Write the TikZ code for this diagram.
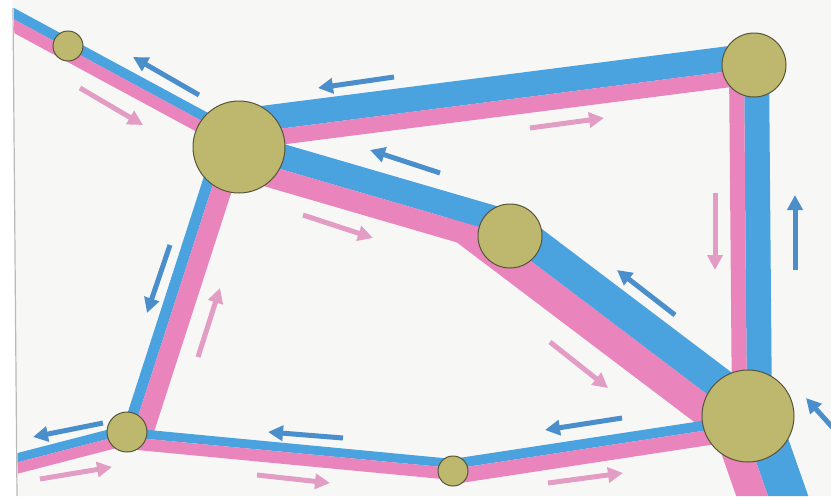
\documentclass[tikz,border=0pt]{standalone}
\usetikzlibrary{calc,arrows.meta}
\definecolor{bandblue}{HTML}{4AA2DF}
\definecolor{bandpink}{HTML}{E985BC}
\definecolor{arrblue}{HTML}{4A8FCB}
\definecolor{arrpink}{HTML}{E39CC3}
\definecolor{nodefill}{HTML}{BDB86E}
\definecolor{nodeedge}{HTML}{55553A}
\definecolor{paper}{HTML}{F7F8F6}
\pgfdeclarelayer{bg}
\pgfdeclarelayer{roads}
\pgfsetlayers{bg,roads,main}
% #1 from, #2 to, #3 blue width, #4 pink width (blue on the left of #1 -> #2)
\newcommand\roadband[4]{%
  \draw[bandblue, line width=#3pt] ($(#1)!0.5*#3pt!90:(#2)$) -- ($(#2)!0.5*#3pt!-90:(#1)$);
  \draw[bandpink, line width=#4pt] ($(#1)!0.5*#4pt!-90:(#2)$) -- ($(#2)!0.5*#4pt!90:(#1)$);
}
\begin{document}
\begin{tikzpicture}[x=1pt,y=-1pt,
  junction/.style={circle, draw=nodeedge, fill=nodefill, line width=1pt, inner sep=0pt},
  barrow/.style={draw=arrblue, line width=5pt, -{Triangle[length=15pt,width=15pt]}},
  parrow/.style={draw=arrpink, line width=5pt, -{Triangle[length=15pt,width=15pt]}}]
\useasboundingbox (0,0) rectangle (831,496);

% junctions
\node[junction, minimum size=30pt] (A) at (68,46) {};
\node[junction, minimum size=92pt] (B) at (239,147) {};
\node[junction, minimum size=64pt] (C) at (754,65) {};
\node[junction, minimum size=64pt] (D) at (510,236) {};
\node[junction, minimum size=92pt] (E) at (748,416) {};
\node[junction, minimum size=40pt] (F) at (127,432) {};
\node[junction, minimum size=30pt] (G) at (453,471) {};

% road boundary points
\coordinate (s1) at (-20,1);
\coordinate (b1) at ($(B)+(0,-6)$);
\coordinate (b2) at ($(B)+(0,-13)$);
\coordinate (c2) at ($(C)+(0,3)$);
\coordinate (c3) at ($(C)+(-10,0)$);
\coordinate (e3) at ($(E)+(-1,0)$);
\coordinate (b4) at ($(B)+(0,10)$);
\coordinate (d5) at ($(D)+(0,9)$);
\coordinate (e5) at ($(E)+(0,9)$);
\coordinate (d5x) at ($(d5)!-65pt!(e5)$);
\coordinate (e6) at ($(E)+(-8,0)$);
\coordinate (s6) at (782,536);
\coordinate (f7) at ($(F)+(6,0)$);
\coordinate (b7) at ($(B)+(-14,0)$);
\coordinate (s8) at (-20,472);
\coordinate (f8) at ($(F)+(0,2)$);
\coordinate (f9) at ($(F)+(0,5)$);
\coordinate (g9) at ($(G)+(0,-3)$);
\coordinate (g10) at ($(G)+(0,-2)$);
\coordinate (e10) at ($(E)+(0,8)$);

% arrow end points
\coordinate (a1t) at (199,95);  \coordinate (a1h) at (133,57);
\coordinate (a2t) at (80,88);   \coordinate (a2h) at (143,125);
\coordinate (a3t) at (394,77);  \coordinate (a3h) at (318,88);
\coordinate (a4t) at (530,128); \coordinate (a4h) at (604,118);
\coordinate (a5t) at (440,173); \coordinate (a5h) at (370,150);
\coordinate (a6t) at (303,215); \coordinate (a6h) at (373,238);
\coordinate (a7t) at (675,315); \coordinate (a7h) at (617,270);
\coordinate (a8t) at (550,342); \coordinate (a8h) at (608,388);
\coordinate (a9t) at (715,193); \coordinate (a9h) at (715,270);
\coordinate (a10t) at (795,270); \coordinate (a10h) at (795,195);
\coordinate (a11t) at (842,438); \coordinate (a11h) at (806,398);
\coordinate (a12t) at (170,245); \coordinate (a12h) at (147,313);
\coordinate (a13t) at (198,357); \coordinate (a13h) at (220,288);
\coordinate (a14t) at (103,423); \coordinate (a14h) at (33,437);
\coordinate (a15t) at (40,479);  \coordinate (a15h) at (112,467);
\coordinate (a16t) at (343,438); \coordinate (a16h) at (268,432);
\coordinate (a17t) at (257,475); \coordinate (a17h) at (330,483);
\coordinate (a18t) at (622,418); \coordinate (a18h) at (545,430);
\coordinate (a19t) at (548,483); \coordinate (a19h) at (623,473);

\begin{pgfonlayer}{bg}
  \fill[white] (0,0) rectangle (831,496);
  \fill[paper] (13,0) -- (831,0) -- (831,496) -- (17,496) -- cycle;
  \draw[gray!55, line width=1.2pt] (13,8) -- (17,496);
\end{pgfonlayer}

\begin{pgfonlayer}{roads}
\begin{scope}
  \clip (14,0) -- (831,0) -- (831,496) -- (18,496) -- cycle;
  % D - E (pink extended back for the bend)
  \draw[bandpink, line width=30pt] ($(d5x)!15pt!-90:(e5)$) -- ($(e5)!15pt!90:(d5x)$);
  \draw[bandblue, line width=32pt] ($(d5)!16pt!90:(e5)$) -- ($(e5)!16pt!-90:(d5)$);
  \roadband{s1}{b1}{10}{12}
  \roadband{b2}{c2}{25}{16}
  \roadband{c3}{e3}{25}{15}
  \roadband{b4}{D}{25}{21}
  \roadband{e6}{s6}{38}{30}
  \roadband{f7}{b7}{11}{20}
  \roadband{s8}{f8}{9}{11}
  \roadband{f9}{g9}{9}{12}
  \roadband{g10}{e10}{10}{15}
  % flow arrows
  \draw[barrow] (a1t) -- (a1h);
  \draw[parrow] (a2t) -- (a2h);
  \draw[barrow] (a3t) -- (a3h);
  \draw[parrow] (a4t) -- (a4h);
  \draw[barrow] (a5t) -- (a5h);
  \draw[parrow] (a6t) -- (a6h);
  \draw[barrow] (a7t) -- (a7h);
  \draw[parrow] (a8t) -- (a8h);
  \draw[parrow] (a9t) -- (a9h);
  \draw[barrow] (a10t) -- (a10h);
  \draw[barrow] (a11t) -- (a11h);
  \draw[barrow] (a12t) -- (a12h);
  \draw[parrow] (a13t) -- (a13h);
  \draw[barrow] (a14t) -- (a14h);
  \draw[parrow] (a15t) -- (a15h);
  \draw[barrow] (a16t) -- (a16h);
  \draw[parrow] (a17t) -- (a17h);
  \draw[barrow] (a18t) -- (a18h);
  \draw[parrow] (a19t) -- (a19h);
\end{scope}
\end{pgfonlayer}
\end{tikzpicture}
\end{document}
